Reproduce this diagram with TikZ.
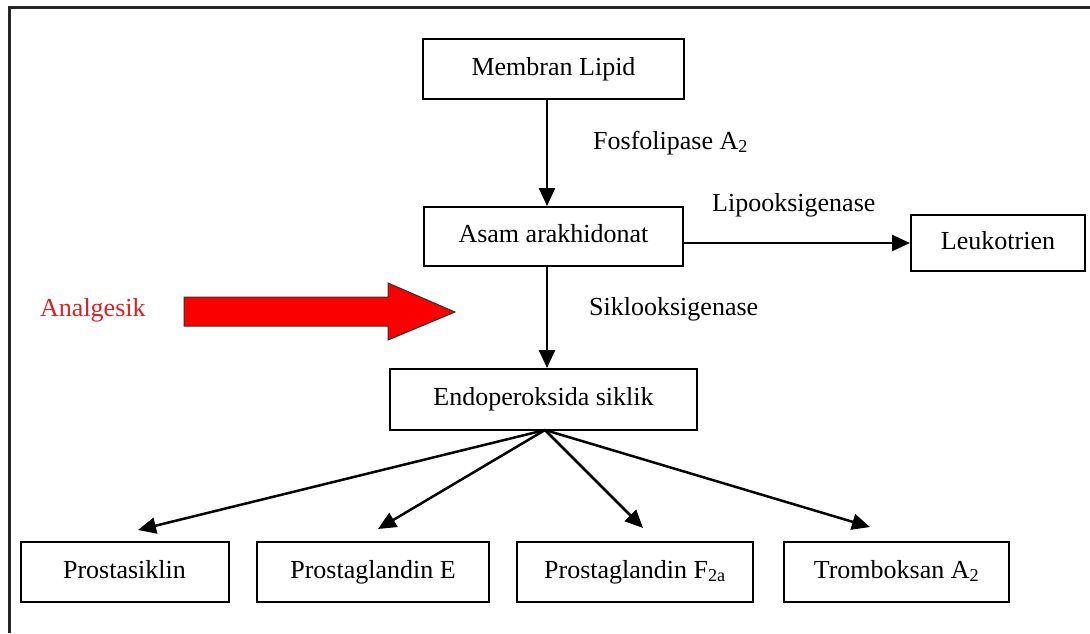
\documentclass[tikz,border=0pt]{standalone}
\usepackage{fontspec}
\setmainfont{Liberation Serif}
\usetikzlibrary{arrows.meta}
\definecolor{redfill}{RGB}{250,0,0}
\definecolor{redtext}{RGB}{225,30,35}
\begin{document}
\begin{tikzpicture}[x=1pt,y=-1pt,
  box/.style={draw=black,line width=2pt,rectangle,inner sep=0pt,text height=18pt,text depth=6pt,font=\fontsize{26}{30}\selectfont},
  lbl/.style={inner sep=0pt,anchor=west,text height=18pt,text depth=6pt,font=\fontsize{26}{30}\selectfont},
  arr/.style={line width=2.5pt,-{Triangle[length=18pt,width=16pt]}}]
\useasboundingbox (0,0) rectangle (1090,633);
\fill[white] (0,0) rectangle (1090,633);
% frame (top and left only visible)
\draw[line width=3pt,black!85] (9,633) -- (9,7) -- (1090,7);
% boxes
\node[box,minimum width=261pt,minimum height=60pt] (mem) at (553.5,69) {Membran Lipid};
\node[box,minimum width=259pt,minimum height=59pt] (asam) at (553.5,236.5) {Asam arakhidonat};
\node[box,minimum width=174pt,minimum height=56pt] (leuko) at (998,243) {Leukotrien};
\node[box,minimum width=307pt,minimum height=61pt] (endo) at (543.5,399.5) {Endoperoksida siklik};
\node[box,minimum width=208pt,minimum height=60pt] (pc) at (124.5,572) {Prostasiklin};
\node[box,minimum width=232pt,minimum height=60pt] (pge) at (373,572) {Prostaglandin E};
\node[box,minimum width=236pt,minimum height=60pt] (pgf) at (635,572) {Prostaglandin F\textsubscript{2a}};
\node[box,minimum width=225pt,minimum height=60pt] (tx) at (896.5,572) {Tromboksan A\textsubscript{2}};
% labels
\node[lbl] (lfos) at (593,143) {Fosfolipase A\textsubscript{2}};
\node[lbl] (llip) at (712,205) {Lipooksigenase};
\node[lbl] (lsik) at (589,309) {Siklooksigenase};
\node[lbl,text=redtext] (lana) at (40,310) {Analgesik};
% connectors
\coordinate (ax) at (547,0);
\draw[arr] (mem.south -| ax) -- (asam.north -| ax);
\draw[arr] (asam.south -| ax) -- (endo.north -| ax);
\draw[arr] (asam.east |- leuko.west) -- (leuko.west);
\coordinate (t1) at (138,530);
\coordinate (t2) at (378,529);
\coordinate (t3) at (643,528);
\coordinate (t4) at (870,527);
\coordinate (fs) at (545,430);
\draw[arr] (fs) -- (t1);
\draw[arr] (fs) -- (t2);
\draw[arr] (fs) -- (t3);
\draw[arr] (fs) -- (t4);
% red block arrow
\draw[fill=redfill,draw=black!80,line width=1pt,line join=miter]
  (184,297) -- (388,297) -- (388,283) -- (455,312) -- (388,340) -- (388,326) -- (184,326) -- cycle;
\end{tikzpicture}
\end{document}
